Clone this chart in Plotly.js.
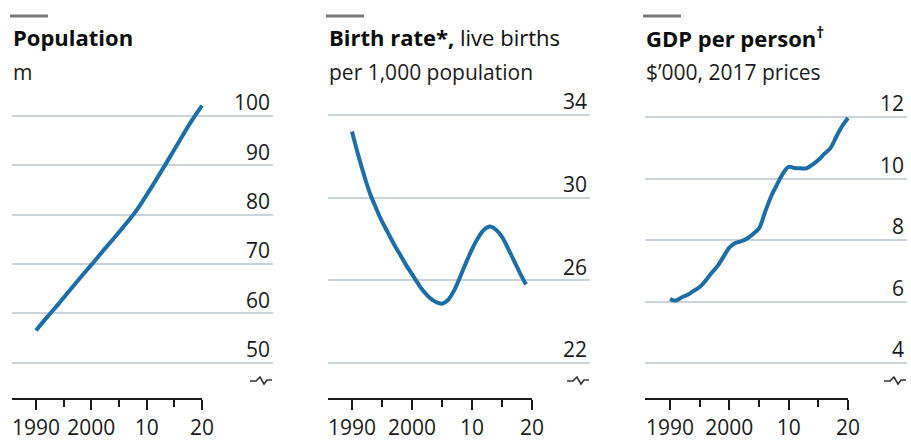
<!DOCTYPE html>
<html>
<head>
<meta charset="utf-8">
<script src="https://cdn.plot.ly/plotly-3.0.1.min.js"></script>
<style>
  html, body { margin: 0; padding: 0; background: #ffffff; }
  #chart { width: 911px; height: 440px; }
</style>
</head>
<body>
<div id="chart"></div>
<script>
// ---------- DATA ----------
const popYears = [1990, 1992, 1994, 1996, 1998, 2000, 2002, 2004, 2006, 2008, 2010, 2012, 2014, 2016, 2018, 2020];
const popValues = [56.5, 59.2, 61.8, 64.5, 67.2, 69.8, 72.5, 75.1, 77.8, 80.6, 84.0, 87.6, 91.3, 95.1, 98.8, 102.1];

const birthYears = [1990, 1991, 1992, 1993, 1994, 1995, 1996, 1997, 1998, 1999, 2000, 2001, 2002, 2003, 2004,
                    2005, 2006, 2007, 2008, 2009, 2010, 2011, 2012, 2013, 2014, 2015, 2016, 2017, 2018, 2019];
const birthValues = [33.2, 32.1, 31.1, 30.2, 29.5, 28.85, 28.3, 27.75, 27.25, 26.75, 26.3, 25.85, 25.45, 25.15, 24.95,
                     24.87, 25.05, 25.5, 26.15, 26.85, 27.5, 28.05, 28.45, 28.6, 28.45, 28.1, 27.55, 26.95, 26.35, 25.8];

const gdpYears = [1990, 1991, 1992, 1993, 1994, 1995, 1996, 1997, 1998, 1999, 2000, 2001, 2002, 2003, 2004, 2005,
                  2006, 2007, 2008, 2009, 2010, 2011, 2012, 2013, 2014, 2015, 2016, 2017, 2018, 2019, 2020];
const gdpValues = [6.08, 6.03, 6.14, 6.22, 6.35, 6.47, 6.68, 6.93, 7.15, 7.45, 7.75, 7.9, 7.96, 8.05, 8.2, 8.38,
                   8.9, 9.4, 9.79, 10.15, 10.38, 10.34, 10.33, 10.33, 10.45, 10.6, 10.8, 10.98, 11.35, 11.7, 11.97];

const xTickVals = [1990, 2000, 2010, 2020];
const xTickText = ["1990", "2000", "10", "20"];
const xMinorVals = [1995, 2005, 2015];

const popTicks = [50, 60, 70, 80, 90, 100];
const birthTicks = [22, 26, 30, 34];
const gdpTicks = [4, 6, 8, 10, 12];

const titles = [
  { main: "<b>Population</b>", sub: "m" },
  { main: "<b>Birth rate*,</b> live births", sub: "per 1,000 population" },
  { main: "<b>GDP per person<sup>†</sup></b>", sub: "$’000, 2017 prices" }
];

// ---------- LAYOUT HELPERS ----------
const W = 911, H = 440;
const px = x => x / W;
const py = y => 1 - y / H;
const FONT = "Open Sans, Noto Sans, sans-serif";
const BLUE = "#1b6ea7";
const GRID = "#cad3d9";
const INK = "#1a1a1a";

const panels = [
  { L: 12,  R: 273, xr: [1985.66, 2032.83], yr: [42.6, 108.32], ticks: popTicks },
  { L: 328, R: 590, xr: [1986.0, 2029.67],  yr: [20.26, 35.935], ticks: birthTicks },
  { L: 645, R: 907, xr: [1985.79, 2029.94], yr: [2.83, 13.366], ticks: gdpTicks }
];
const TOP = 75, BOT = 399;

const series = [
  [popYears, popValues],
  [birthYears, birthValues],
  [gdpYears, gdpValues]
];

const data = series.map((s, i) => ({
  x: s[0], y: s[1],
  xaxis: i === 0 ? "x" : "x" + (i + 1),
  yaxis: i === 0 ? "y" : "y" + (i + 1),
  type: "scatter", mode: "lines",
  line: { color: BLUE, width: 4, shape: "spline", smoothing: 1 },
  hoverinfo: "skip", showlegend: false
}));

const layout = {
  width: W, height: H,
  margin: { l: 0, r: 0, t: 0, b: 0 },
  paper_bgcolor: "#ffffff", plot_bgcolor: "rgba(0,0,0,0)",
  font: { family: FONT, color: INK, size: 21 },
  showlegend: false,
  shapes: [], annotations: []
};

panels.forEach((p, i) => {
  const sfx = i === 0 ? "" : String(i + 1);
  const xa = "xaxis" + sfx, ya = "yaxis" + sfx;
  const xref = "x" + sfx, yref = "y" + sfx;
  layout[xa] = {
    domain: [px(p.L), px(p.R)], range: p.xr, anchor: yref,
    showgrid: false, zeroline: false, showline: false,
    tickmode: "array", tickvals: xTickVals, ticktext: xTickText,
    ticks: "outside", ticklen: 10, tickwidth: 2, tickcolor: INK,
    minor: { tickmode: "array", tickvals: xMinorVals, ticks: "outside", ticklen: 7, tickwidth: 2, tickcolor: INK, showgrid: false },
    tickfont: { family: FONT, size: 21, color: INK },
    fixedrange: true
  };
  layout[ya] = {
    domain: [py(BOT), py(TOP)], range: p.yr, anchor: xref,
    side: "right", ticklabelposition: "inside",
    tickmode: "array", tickvals: p.ticks,
    showgrid: true, gridcolor: GRID, gridwidth: 2,
    zeroline: false, showline: false, ticks: "",
    ticklabelshift: -13,
    tickfont: { family: FONT, size: 21, color: INK },
    fixedrange: true
  };
  // x axis baseline, up to 2020
  layout.shapes.push({
    type: "line", xref: xref, yref: "paper",
    x0: p.xr[0], x1: 2020, y0: py(BOT), y1: py(BOT),
    line: { color: INK, width: 2 }
  });
  // top grey bar
  layout.shapes.push({
    type: "line", xref: "paper", yref: "paper",
    x0: px(p.L - 2), x1: px(p.L + 36), y0: py(16), y1: py(16),
    line: { color: "#7a7a7a", width: 3 }
  });
  // axis break symbol
  const R = p.R;
  const pts = [[R - 23, 381], [R - 17, 381], [R - 13, 377], [R - 9, 384], [R - 6, 380], [R - 1, 380]];
  const path = pts.map((q, k) => (k === 0 ? "M " : "L ") + px(q[0]).toFixed(5) + " " + py(q[1]).toFixed(5)).join(" ");
  layout.shapes.push({
    type: "path", xref: "paper", yref: "paper", path: path,
    line: { color: "#333333", width: 1.6 }
  });
  // titles
  layout.annotations.push({
    xref: "paper", yref: "paper", x: px(p.L - 1), y: py(37),
    xanchor: "left", yanchor: "middle", showarrow: false,
    text: titles[i].main, font: { family: FONT, size: 22, color: "#0d0d0d" }
  });
  layout.annotations.push({
    xref: "paper", yref: "paper", x: px(p.L - 1), y: py(72),
    xanchor: "left", yanchor: "middle", showarrow: false,
    text: titles[i].sub, font: { family: FONT, size: 21, color: INK }
  });
});

Plotly.newPlot("chart", data, layout, { staticPlot: true, displayModeBar: false });
</script>
</body>
</html>
